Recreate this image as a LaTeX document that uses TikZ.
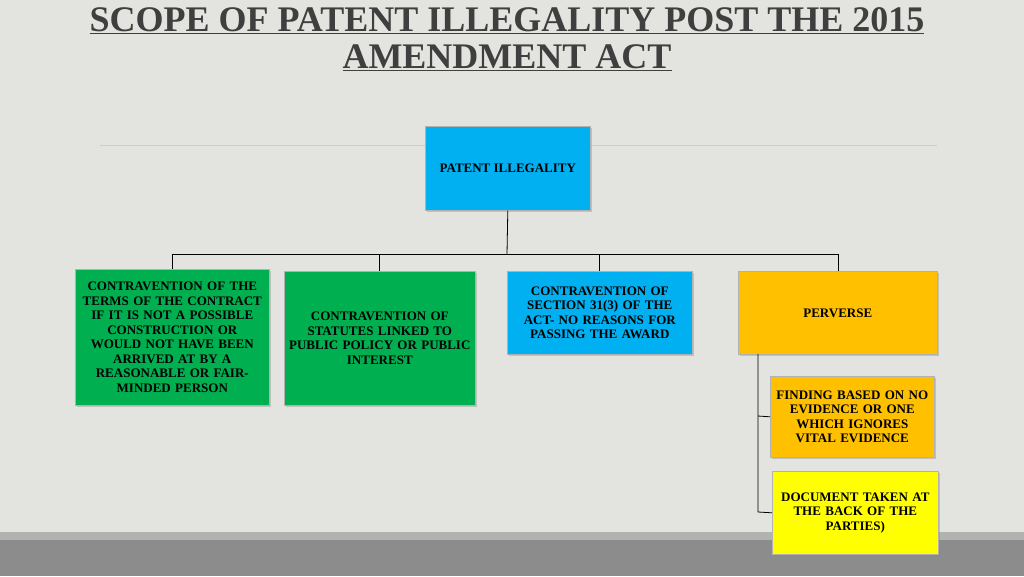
\documentclass[tikz,border=0pt]{standalone}
\usepackage{fontspec}
\setmainfont{Liberation Serif}
\usetikzlibrary{shadows}
\definecolor{bg}{HTML}{E3E3DF}
\definecolor{ttl}{HTML}{3F3F3F}
\definecolor{cy}{HTML}{00B0F0}
\definecolor{gr}{HTML}{00B050}
\definecolor{og}{HTML}{FFC000}
\definecolor{yl}{HTML}{FFFF00}
\tikzset{
 box/.style={draw=gray!60, line width=0.6pt, drop shadow={shadow xshift=1.5pt,shadow yshift=-1.5pt,opacity=0.35},
   align=center, font=\bfseries\fontsize{13}{14.5}\selectfont, inner sep=1pt, anchor=north west},
 conn/.style={draw=black, line width=0.8pt}
}
\begin{document}
\begin{tikzpicture}[x=1pt,y=-1pt]
\useasboundingbox (0,0) rectangle (1024,576);
\fill[bg] (0,0) rectangle (1024,576);
\fill[black!45] (0,532) rectangle (1024,576);
\fill[black!30] (0,532) rectangle (1024,540);
\node[font=\bfseries\fontsize{36}{40}\selectfont, text=ttl, inner sep=0pt] (t1) at (507,21) {\underline{SCOPE OF PATENT ILLEGALITY POST THE 2015}};
\node[font=\bfseries\fontsize{36}{40}\selectfont, text=ttl, inner sep=0pt] (t2) at (507,58) {\underline{AMENDMENT ACT}};
\draw[black!20, line width=0.8pt] (100,145) -- (937,145);
\node[box, fill=cy, minimum width=165pt, minimum height=84pt] (p) at (425,126) {PATENT ILLEGALITY};
\node[box, fill=gr, minimum width=194pt, minimum height=136pt, text width=190pt] (g1) at (75,269) {CONTRAVENTION OF THE\\TERMS OF THE CONTRACT\\IF IT IS NOT A POSSIBLE\\CONSTRUCTION OR\\WOULD NOT HAVE BEEN\\ARRIVED AT BY A\\REASONABLE OR FAIR-\\MINDED PERSON};
\node[box, fill=gr, minimum width=191pt, minimum height=134pt, text width=189pt] (g2) at (284,271) {CONTRAVENTION OF\\STATUTES LINKED TO\\PUBLIC POLICY OR PUBLIC\\INTEREST};
\node[box, fill=cy, minimum width=185pt, minimum height=83pt, text width=180pt] (b) at (507,271) {CONTRAVENTION OF\\SECTION 31(3) OF THE\\ACT- NO REASONS FOR\\PASSING THE AWARD};
\node[box, fill=og, minimum width=199pt, minimum height=83pt] (o) at (738,271) {PERVERSE};
\node[box, fill=og, minimum width=164pt, minimum height=81pt, text width=162pt] (o2) at (770,376) {FINDING BASED ON NO\\EVIDENCE OR ONE\\WHICH IGNORES\\VITAL EVIDENCE};
\node[box, fill=yl, minimum width=166pt, minimum height=83pt, text width=162pt] (y) at (772,471) {DOCUMENT TAKEN AT\\THE BACK OF THE\\PARTIES)};
\coordinate (j) at (507,254);
\draw[conn] (p.south) -- (j);
\draw[conn] (172,254) -- (838,254);
\draw[conn] (172,254) -- (g1.north -| 172,0);
\draw[conn] (379,254) -- (g2.north -| 379,0);
\draw[conn] (599,254) -- (b.north -| 599,0);
\draw[conn] (838,254) -- (o.north -| 838,0);
\draw[conn] (758,354) -- (758,512) -- (y.west);
\draw[conn] (758,416) -- (o2.west);
\end{tikzpicture}
\end{document}
